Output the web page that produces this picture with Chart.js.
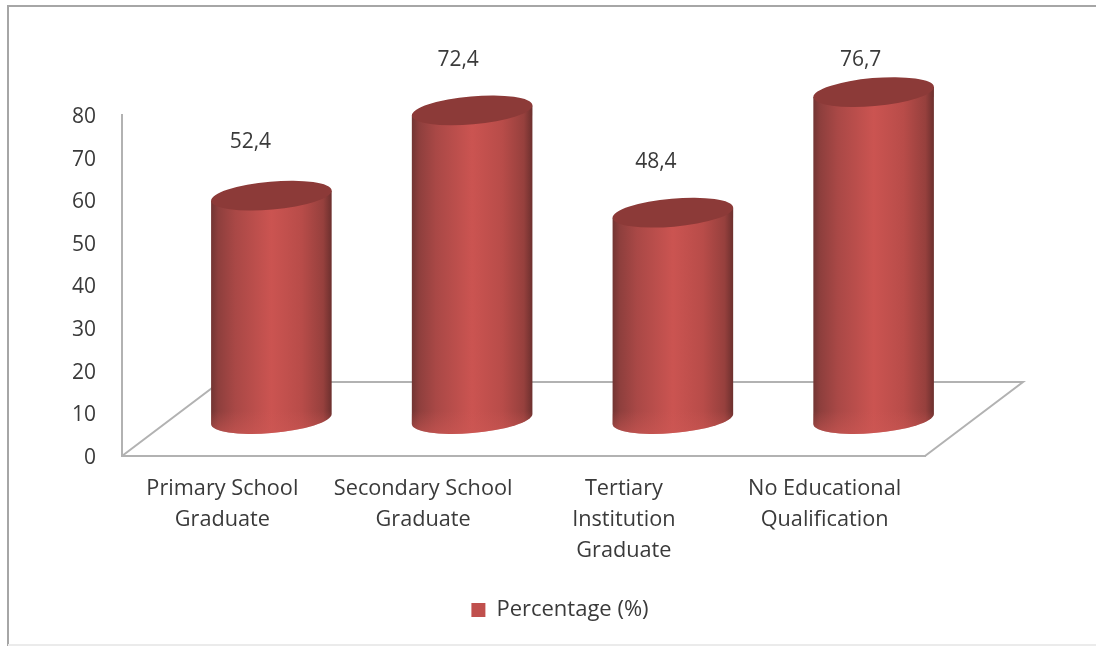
<!DOCTYPE html>
<html>
<head>
<meta charset="utf-8">
<title>Percentage by education level</title>
<script src="https://cdn.jsdelivr.net/npm/chart.js@4/dist/chart.umd.min.js"></script>
<style>
  html, body { margin: 0; padding: 0; background: #fff; }
  #wrap { width: 1096px; height: 646px; }
</style>
</head>
<body>
<div id="wrap"><canvas id="myChart" width="1096" height="646"></canvas></div>
<script>
var categories = [
    ['Primary School', 'Graduate'],
    ['Secondary School', 'Graduate'],
    ['Tertiary', 'Institution', 'Graduate'],
    ['No Educational', 'Qualification']
];
var percentages = [52.4, 72.4, 48.4, 76.7];
var seriesName = 'Percentage (%)';

// hand placed value labels, relative to the top of each cylinder
var labelNudge = [[-21, -54], [-14, -50], [-17, -51], [-13, -32]];

var textColor = '#3a3a3a';
var axisColor = '#b2b2b2';
var depthX = 98, depthY = 74;     // floor depth
var radiusX = 60.5, radiusY = 14, tilt = -5 * Math.PI / 180;

function drawCylinder(ctx, x, top, bottom) {
    // angle of the right-most point on the tilted ellipse
    var t0 = Math.atan2(-radiusY * Math.sin(tilt), radiusX * Math.cos(tilt));
    var dx = radiusX * Math.cos(t0) * Math.cos(tilt) - radiusY * Math.sin(t0) * Math.sin(tilt);
    var dy = radiusX * Math.cos(t0) * Math.sin(tilt) + radiusY * Math.sin(t0) * Math.cos(tilt);

    var body = ctx.createLinearGradient(x - dx, 0, x + dx, 0);
    body.addColorStop(0, '#723533');
    body.addColorStop(0.06, '#8e3f3d');
    body.addColorStop(0.2, '#a94846');
    body.addColorStop(0.5, '#cb5451');
    body.addColorStop(0.75, '#b84c49');
    body.addColorStop(0.93, '#96403d');
    body.addColorStop(1, '#6c302e');

    ctx.beginPath();
    ctx.moveTo(x - dx, top - dy);
    ctx.lineTo(x - dx, bottom - dy);
    ctx.ellipse(x, bottom, radiusX, radiusY, tilt, t0 + Math.PI, t0, true);
    ctx.lineTo(x + dx, top + dy);
    ctx.closePath();
    ctx.fillStyle = body;
    ctx.fill();

    // soft lighter fade toward the bottom edge
    var fade = ctx.createLinearGradient(0, bottom - 8, 0, bottom + radiusY);
    fade.addColorStop(0, 'rgba(205, 88, 84, 0)');
    fade.addColorStop(1, 'rgba(205, 88, 84, 0.55)');
    ctx.fillStyle = fade;
    ctx.fill();

    ctx.beginPath();
    ctx.ellipse(x, top, radiusX, radiusY, tilt, 0, Math.PI * 2);
    ctx.fillStyle = '#8c3a38';
    ctx.fill();
}

var cylinders = {
    id: 'cylinders',
    afterLayout: function (chart) {
        // legend sits a bit right of centre
        chart.legend.left = 24;
        chart.legend.right = 1096;
        chart.legend.top = 589;
    },
    beforeDraw: function (chart) {
        var ctx = chart.ctx;
        ctx.save();
        ctx.strokeStyle = '#a6a6a6';
        ctx.lineWidth = 2;
        ctx.beginPath();
        ctx.moveTo(1096, 6);
        ctx.lineTo(8, 6);
        ctx.lineTo(8, 646);
        ctx.stroke();
        ctx.strokeStyle = '#ebebeb';
        ctx.beginPath();
        ctx.moveTo(8, 645);
        ctx.lineTo(1096, 645);
        ctx.stroke();
        ctx.restore();
    },
    beforeDatasetsDraw: function (chart) {
        var ctx = chart.ctx, area = chart.chartArea;
        ctx.save();
        ctx.strokeStyle = axisColor;
        ctx.lineWidth = 2;
        ctx.beginPath();
        ctx.moveTo(area.left, area.bottom);
        ctx.lineTo(area.left + depthX, area.bottom - depthY);
        ctx.lineTo(area.right + depthX, area.bottom - depthY);
        ctx.lineTo(area.right, area.bottom);
        ctx.stroke();
        ctx.restore();
    },
    beforeDatasetDraw: function (chart, args) {
        var ctx = chart.ctx, yScale = chart.scales.y;
        var bottom = yScale.getPixelForValue(0) - depthY / 2;
        ctx.save();
        args.meta.data.forEach(function (bar, i) {
            var x = bar.x + depthX / 2;
            var top = bar.y - depthY / 2;
            drawCylinder(ctx, x, top, bottom);

            ctx.fillStyle = textColor;
            ctx.font = '21px "Open Sans"';
            ctx.textAlign = 'center';
            ctx.textBaseline = 'middle';
            var text = String(percentages[i]).replace('.', ',');
            ctx.fillText(text, x + labelNudge[i][0], top + labelNudge[i][1]);
        });
        ctx.restore();
        return false;
    }
};

new Chart(document.getElementById('myChart'), {
    type: 'bar',
    data: {
        labels: categories,
        datasets: [{
            label: seriesName,
            data: percentages,
            backgroundColor: '#c0504d'
        }]
    },
    plugins: [cylinders],
    options: {
        responsive: false,
        animation: false,
        layout: { padding: { left: 0, right: 171, top: 115, bottom: 0 } },
        scales: {
            x: {
                grid: { display: false },
                border: { color: axisColor, width: 2 },
                ticks: {
                    color: textColor,
                    padding: 9,
                    maxRotation: 0,
                    autoSkip: false,
                    font: { family: '"Open Sans"', size: 21.7, lineHeight: 1.43 }
                },
                afterFit: function (scale) { scale.height = 148; }
            },
            y: {
                min: 0,
                max: 80,
                grid: { display: false },
                border: { color: axisColor, width: 2 },
                ticks: {
                    stepSize: 10,
                    color: textColor,
                    padding: 18,
                    labelOffset: 2,
                    font: { family: '"Open Sans"', size: 21 }
                },
                afterFit: function (scale) { scale.width = 122; }
            }
        },
        plugins: {
            tooltip: { enabled: false },
            legend: {
                position: 'bottom',
                labels: {
                    color: textColor,
                    boxWidth: 14,
                    boxHeight: 14,
                    padding: 10,
                    font: { family: '"Open Sans"', size: 22 }
                }
            }
        }
    }
});
</script>
</body>
</html>
